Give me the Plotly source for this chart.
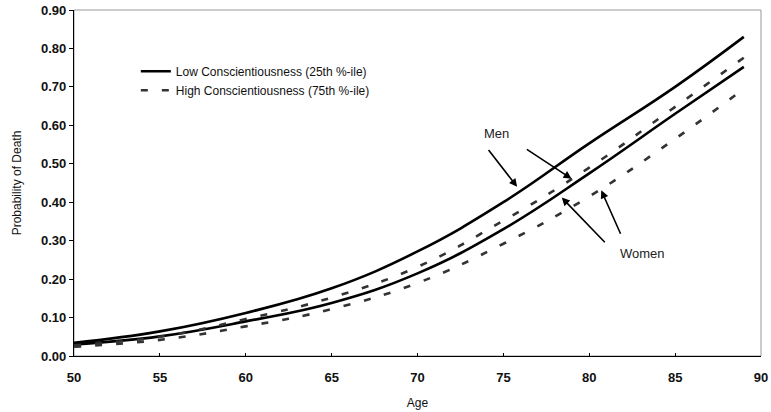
import plotly.graph_objects as go

# Predicted probability of death by age
ages = [50, 55, 60, 65, 70, 75, 80, 85, 89]
men_low = [0.034, 0.064, 0.112, 0.176, 0.272, 0.400, 0.553, 0.700, 0.830]
women_low = [0.030, 0.051, 0.090, 0.138, 0.215, 0.330, 0.475, 0.630, 0.752]
men_high = [0.028, 0.050, 0.096, 0.152, 0.232, 0.352, 0.490, 0.648, 0.776]
women_high = [0.024, 0.042, 0.077, 0.122, 0.190, 0.292, 0.415, 0.565, 0.695]

x_ticks = [50, 55, 60, 65, 70, 75, 80, 85, 90]
y_ticks = [0.0, 0.1, 0.2, 0.3, 0.4, 0.5, 0.6, 0.7, 0.8, 0.9]

FONT = "Liberation Sans, Arial, sans-serif"
solid = dict(color="black", width=2.6, shape="spline", smoothing=1.2)
dashed = dict(color="#333333", width=2.6, dash="7px,14px", shape="spline", smoothing=1.2)

fig = go.Figure()
fig.add_trace(go.Scatter(x=ages, y=men_low, mode="lines", line=solid,
                         name="Low Conscientiousness (25th %-ile)", legendrank=1))
fig.add_trace(go.Scatter(x=ages, y=women_low, mode="lines", line=solid,
                         showlegend=False))
fig.add_trace(go.Scatter(x=ages, y=men_high, mode="lines", line=dashed,
                         name="High Conscientiousness (75th %-ile)", legendrank=2))
fig.add_trace(go.Scatter(x=ages, y=women_high, mode="lines", line=dashed,
                         showlegend=False))

# Group labels with pointer arrows
arrow = dict(showarrow=True, arrowhead=2, arrowsize=1.0, arrowwidth=1.6,
             arrowcolor="black", axref="x", ayref="y", text="")
pointers = [
    ((74.07, 0.540), (75.80, 0.440)),
    ((76.28, 0.540), (78.97, 0.461)),
    ((80.99, 0.292), (78.40, 0.412)),
    ((81.86, 0.314), (80.70, 0.431)),
]
for (tx, ty), (hx, hy) in pointers:
    fig.add_annotation(x=hx, y=hy, ax=tx, ay=ty, **arrow)

fig.add_annotation(x=74.6, y=0.578, text="Men", showarrow=False,
                   font=dict(family=FONT, size=13, color="#222"))
fig.add_annotation(x=83.08, y=0.267, text="Women", showarrow=False,
                   font=dict(family=FONT, size=13, color="#222"))

# Light frame around the plotting area
fig.add_shape(type="rect", xref="paper", yref="paper", x0=0, y0=0, x1=1, y1=1,
              line=dict(color="#999999", width=1), layer="below")

fig.update_xaxes(
    range=[50, 90], tickvals=x_ticks, ticktext=[str(v) for v in x_ticks],
    showgrid=False, zeroline=False, showline=True, linecolor="black", linewidth=1.2,
    ticks="inside", ticklen=3, tickcolor="black", ticklabeloverflow="allow",
    ticklabelstandoff=9, automargin=False,
    tickfont=dict(family=FONT, size=13, color="#111", weight="bold"),
    title=dict(text="Age", font=dict(family=FONT, size=12, color="#111"), standoff=14),
)
fig.update_yaxes(
    range=[0, 0.9], tickvals=y_ticks, ticktext=[f"{v:.2f}" for v in y_ticks],
    showgrid=False, zeroline=False, showline=True, linecolor="black", linewidth=1.2,
    ticks="outside", ticklen=4, tickcolor="black", automargin=False,
    tickfont=dict(family=FONT, size=13, color="#111", weight="bold"),
    title=dict(text="Probability of Death", font=dict(family=FONT, size=12, color="#111"),
               standoff=16),
)

fig.update_layout(
    width=771, height=412,
    margin=dict(l=74, r=10, t=10, b=56),
    paper_bgcolor="white", plot_bgcolor="white",
    legend=dict(x=0.09, y=0.865, xanchor="left", yanchor="top",
                bgcolor="rgba(0,0,0,0)", tracegroupgap=0, itemwidth=30,
                font=dict(family=FONT, size=12, color="#111")),
)

fig.write_html("out.html")
